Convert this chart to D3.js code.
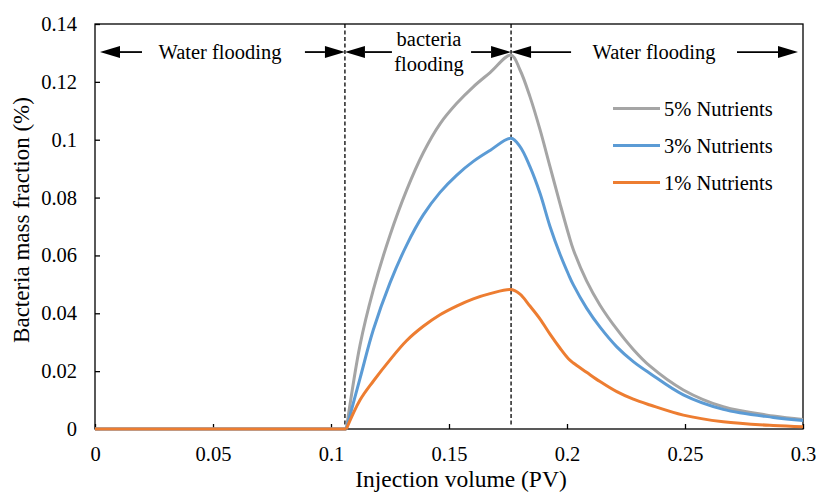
<!DOCTYPE html>
<html>
<head>
<meta charset="utf-8">
<script src="https://cdn.jsdelivr.net/npm/d3@7"></script>
<style>
  html, body { margin: 0; padding: 0; background: #fff; }
  svg { display: block; }
  svg text { font-family: "Liberation Serif", "Times New Roman", Times, Tinos, "DejaVu Serif", serif !important; fill: #000; }
</style>
</head>
<body>
<svg id="chart" width="816" height="492"></svg>
<script>
// ---- data ----
const injectionPV = [0, 0.1065, 0.1123, 0.1179, 0.125, 0.132, 0.1391, 0.1462, 0.1532, 0.1603, 0.1674, 0.1763,
  0.1801, 0.1843, 0.1886, 0.1928, 0.197, 0.2006, 0.2027, 0.2083, 0.214, 0.2211, 0.2281, 0.2352, 0.2493, 0.2662, 0.2874, 0.3];
const nutrients5 = [0, 0, 0.029, 0.048, 0.067, 0.0825, 0.0955, 0.1055, 0.1125, 0.1183, 0.1232, 0.1293,
  0.1241, 0.1149, 0.1034, 0.0907, 0.078, 0.0675, 0.062, 0.0512, 0.0428, 0.0345, 0.0275, 0.0217, 0.0135, 0.0077, 0.0045, 0.0033];
const nutrients3 = [0, 0, 0.0175, 0.0342, 0.0505, 0.0635, 0.074, 0.0818, 0.0877, 0.0925, 0.0963, 0.1005,
  0.0976, 0.0907, 0.0814, 0.07, 0.0605, 0.0535, 0.0498, 0.0418, 0.0352, 0.0284, 0.0233, 0.0192, 0.0118, 0.0068, 0.004, 0.0029];
const nutrients1 = [0, 0, 0.0100, 0.0165, 0.0239, 0.0305, 0.0355, 0.0395, 0.0425, 0.045, 0.0468, 0.0482,
  0.0466, 0.0425, 0.038, 0.0328, 0.028, 0.0243, 0.0228, 0.0196, 0.0164, 0.0129, 0.0103, 0.0083, 0.0048, 0.0025, 0.0012, 0.0008];
const seriesNames = ["5% Nutrients", "3% Nutrients", "1% Nutrients"];
const seriesColors = ["#A5A5A5", "#5B9BD5", "#ED7D31"];
const xTickValues = [0, 0.05, 0.1, 0.15, 0.2, 0.25, 0.3];
const yTickValues = [0, 0.02, 0.04, 0.06, 0.08, 0.1, 0.12, 0.14];
const phaseBounds = [0, 0.1059, 0.1763, 0.3];
const phaseLabels = [["Water flooding"], ["bacteria", "flooding"], ["Water flooding"]];
const arrowLevel = 0.1303;

(function draw() {
  const svg = d3.select("#chart");
  const pl = 95, pr = 803, pt = 24, pb = 429;
  const x = d3.scaleLinear().domain([0, 0.3]).range([pl, pr]);
  const y = d3.scaleLinear().domain([0, 0.14]).range([pb, pt]);
  const FONT = 20.5;
  const FAM = '"Liberation Serif", "Times New Roman", Times, Tinos, "DejaVu Serif", serif';

  const gx = svg.append("g").attr("transform", `translate(0,${pb})`)
    .call(d3.axisBottom(x).tickValues(xTickValues).tickFormat(d => String(d))
      .tickSizeInner(-5).tickSizeOuter(0).tickPadding(17));
  const gy = svg.append("g").attr("transform", `translate(${pl},0)`)
    .call(d3.axisLeft(y).tickValues(yTickValues).tickFormat(d => String(d))
      .tickSizeInner(-5).tickSizeOuter(0).tickPadding(18));
  [gx, gy].forEach(g => {
    g.attr("font-family", FAM).attr("font-size", FONT);
    g.select(".domain").remove();
    g.selectAll(".tick line").attr("stroke", "#000").attr("stroke-width", 1.3);
    g.selectAll(".tick text").attr("fill", "#000");
  });

  svg.append("rect").attr("x", pl).attr("y", pt).attr("width", pr - pl).attr("height", pb - pt)
    .attr("fill", "none").attr("stroke", "#000").attr("stroke-width", 1.3);

  [phaseBounds[1], phaseBounds[2]].forEach(v => {
    svg.append("line").attr("x1", x(v)).attr("x2", x(v)).attr("y1", y(0.14)).attr("y2", y(0) - 3)
      .attr("stroke", "#000").attr("stroke-width", 1.3).attr("stroke-dasharray", "4,2.5");
  });

  const allSeries = [nutrients5, nutrients3, nutrients1];
  const lineLin = d3.line().x(d => x(d[0])).y(d => y(d[1]));
  const lineCurve = d3.line().x(d => x(d[0])).y(d => y(d[1])).curve(d3.curveCatmullRom.alpha(0.5));
  allSeries.forEach((vals, i) => {
    const pts = injectionPV.map((v, j) => [v, vals[j]]);
    let k = 0;
    while (k + 1 < pts.length && pts[k + 1][1] === 0) k++;
    svg.append("path").attr("d", lineLin(pts.slice(0, k + 1)))
      .attr("fill", "none").attr("stroke", seriesColors[i]).attr("stroke-width", 3);
    svg.append("path").attr("d", lineCurve(pts.slice(k)))
      .attr("fill", "none").attr("stroke", seriesColors[i]).attr("stroke-width", 3)
      .attr("stroke-linejoin", "round");
  });

  const legY = [108.5, 145.5, 182.5];
  seriesNames.forEach((name, i) => {
    svg.append("line").attr("x1", 613).attr("x2", 660).attr("y1", legY[i]).attr("y2", legY[i])
      .attr("stroke", seriesColors[i]).attr("stroke-width", 3);
    svg.append("text").attr("x", 664).attr("y", legY[i] + 7).attr("font-family", FAM)
      .style("font-size", FONT + "px").text(name);
  });

  const ay = y(arrowLevel);
  function arrow(tip, dir, len) {
    const headLen = 20, half = 6;
    svg.append("line").attr("x1", tip - dir * len).attr("x2", tip - dir * headLen).attr("y1", ay).attr("y2", ay)
      .attr("stroke", "#000").attr("stroke-width", 1.8);
    svg.append("path")
      .attr("d", `M${tip},${ay} L${tip - dir * headLen},${ay - half} L${tip - dir * headLen},${ay + half} Z`)
      .attr("fill", "#000");
  }
  arrow(x(phaseBounds[0]) + 5, -1, 42);
  arrow(x(phaseBounds[1]), 1, 40);
  arrow(x(phaseBounds[1]), -1, 47);
  arrow(x(phaseBounds[2]), 1, 40);
  arrow(x(phaseBounds[2]), -1, 60);
  arrow(x(phaseBounds[3]) - 5, 1, 61);

  const labelCenters = [220, 429, 654];
  phaseLabels.forEach((lines, i) => {
    if (lines.length === 1) {
      svg.append("text").attr("x", labelCenters[i]).attr("y", ay + 7).attr("text-anchor", "middle")
        .attr("font-family", FAM).style("font-size", FONT + "px").text(lines[0]);
    } else {
      lines.forEach((t, j) => {
        svg.append("text").attr("x", labelCenters[i]).attr("y", 46 + j * 24.5).attr("text-anchor", "middle")
          .attr("font-family", FAM).style("font-size", FONT + "px").text(t);
      });
    }
  });

  svg.append("text").attr("x", 461).attr("y", 487).attr("text-anchor", "middle")
    .attr("font-family", FAM).style("font-size", "23.5px").text("Injection volume (PV)");
  svg.append("text").attr("transform", `translate(29,220) rotate(-90)`)
    .attr("text-anchor", "middle").attr("font-family", FAM).style("font-size", "23px")
    .text("Bacteria mass fraction (%)");
})();
</script>
</body>
</html>
